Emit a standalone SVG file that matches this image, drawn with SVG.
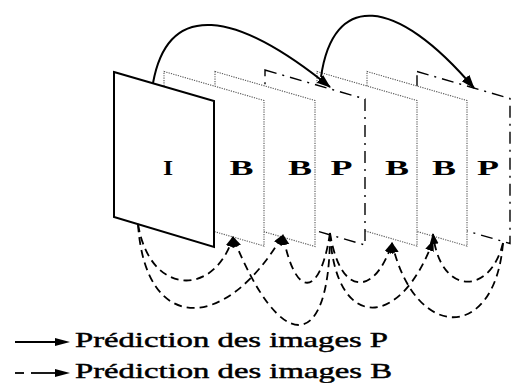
<svg xmlns="http://www.w3.org/2000/svg" width="511" height="383" viewBox="0 0 511 383">
  <style>
    .frame-i { fill: #fff; stroke: #000; stroke-width: 2; stroke-linejoin: miter; }
    .frame-b { fill: #fff; stroke: #555; stroke-width: 1.1; stroke-dasharray: 1.2 1.2; }
    .frame-p { fill: #fff; stroke: #000; stroke-width: 1.4; stroke-dasharray: 12 6 2 6; }
    .lbl { font-family: "Liberation Serif", "Times New Roman", serif; font-weight: bold; font-size: 20px; fill: #000; text-anchor: middle; }
    .leg { font-family: "Liberation Serif", "Times New Roman", serif; font-size: 21px; fill: #000; stroke: #000; stroke-width: 0.45; }
    .solid { fill: none; stroke: #000; stroke-width: 2; }
    .dash { fill: none; stroke: #000; stroke-width: 1.8; stroke-dasharray: 8 5; }
  </style>
  <defs>
    <marker id="ah" markerUnits="userSpaceOnUse" markerWidth="16" markerHeight="12" refX="13" refY="5" orient="auto">
      <path d="M0,0 L14,5 L0,10 z" fill="#000"/>
    </marker>
    <marker id="ahd" markerUnits="userSpaceOnUse" markerWidth="12" markerHeight="10" refX="10" refY="4.5" orient="auto">
      <path d="M0,0 L11,4.5 L0,9 z" fill="#000"/>
    </marker>
  </defs>

  <rect width="511" height="383" fill="#fff"/>

  <!-- frames, back to front -->
  <g id="frame7"><polygon class="frame-p" points="417,71.5 510,98.5 510,243.5 417,216.5"/></g>
  <g id="frame6"><polygon class="frame-b" points="367,71.5 467,100.5 467,246 367,217"/></g>
  <g id="frame5"><polygon class="frame-b" points="317,71.5 417,100.5 417,246 317,217"/></g>
  <g id="frame4"><polygon class="frame-p" points="265,70 365,99 365,245 265,216"/></g>
  <g id="frame3"><polygon class="frame-b" points="215,71.5 315,100.5 315,246.5 215,217.5"/></g>
  <g id="frame2"><polygon class="frame-b" points="164,71.5 264,100.5 264,246 164,217"/></g>
  <g id="frame1"><polygon class="frame-i" points="114,72 214,101 214,247 114,217"/></g>

  <!-- labels -->
  <g id="labels">
    <text class="lbl" transform="translate(168,175) scale(1.3,1)">I</text>
    <text class="lbl" transform="translate(241.5,175) scale(1.8,1)">B</text>
    <text class="lbl" transform="translate(300,175) scale(1.8,1)">B</text>
    <text class="lbl" transform="translate(341.5,175) scale(1.8,1)">P</text>
    <text class="lbl" transform="translate(397,175) scale(1.8,1)">B</text>
    <text class="lbl" transform="translate(444,175) scale(1.8,1)">B</text>
    <text class="lbl" transform="translate(488,175) scale(1.8,1)">P</text>
  </g>

  <!-- connectors -->
  <g id="connectors">
    <path class="solid" marker-end="url(#ah)" d="M153,83 C168,0 235,10 330,87"/>
    <path class="solid" marker-end="url(#ah)" d="M321,77 C333,-8 395,-5 474,88"/>

    <path class="dash" marker-end="url(#ahd)" d="M138,224 C150,297 215,297 233,237"/>
    <path class="dash" marker-end="url(#ahd)" d="M138,224 C145,334 225,334 283,235"/>
    <path class="dash" marker-end="url(#ahd)" d="M330,233 C320,299 295,299 283,235"/>
    <path class="dash" marker-end="url(#ahd)" d="M330,233 C330,355 280,355 233,237"/>
    <path class="dash" marker-end="url(#ahd)" d="M330,233 C340,297 375,297 392,243"/>
    <path class="dash" marker-end="url(#ahd)" d="M330,233 C335,331 400,331 433,241"/>
    <path class="dash" marker-end="url(#ahd)" d="M503,243 C495,342 415,342 392,243"/>
    <path class="dash" marker-end="url(#ahd)" d="M503,243 C490,296 440,296 433,234"/>
  </g>

  <!-- legend -->
  <g id="legend">
    <line x1="15" y1="342" x2="58" y2="342" stroke="#000" stroke-width="1.8"/>
    <polygon points="55,338 70,342 55,346" fill="#000"/>
    <text class="leg" x="75" y="347" textLength="313" lengthAdjust="spacingAndGlyphs">Prédiction des images P</text>

    <line x1="15" y1="373" x2="24" y2="373" stroke="#000" stroke-width="1.8"/>
    <line x1="31" y1="373" x2="58" y2="373" stroke="#000" stroke-width="1.8"/>
    <polygon points="55,369 70,373 55,377" fill="#000"/>
    <text class="leg" x="75" y="378" textLength="317" lengthAdjust="spacingAndGlyphs">Prédiction des images B</text>
  </g>
</svg>
